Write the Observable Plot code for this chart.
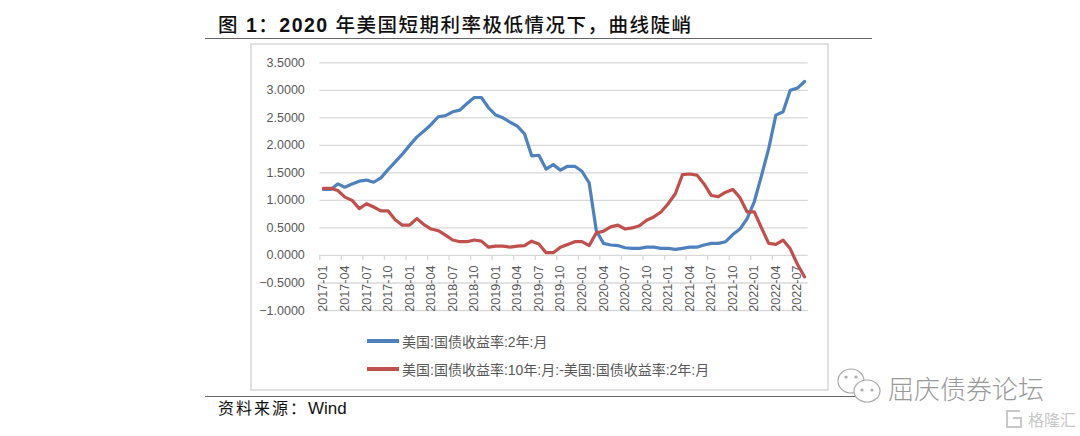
<!DOCTYPE html>
<html><head><meta charset="utf-8">
<script src="https://cdn.jsdelivr.net/npm/d3@7"></script>
<script src="https://cdn.jsdelivr.net/npm/@observablehq/plot@0.6"></script>
<style>
html,body{margin:0;padding:0;background:#fff;width:1080px;height:436px;overflow:hidden}
#page{position:relative;width:1080px;height:436px;font-family:"Noto Sans CJK SC",sans-serif}
#title{position:absolute;left:218px;top:10px;font-size:19.5px;line-height:30px;font-weight:500;color:#111;letter-spacing:1.5px;white-space:pre;font-family:"Liberation Sans","Noto Sans CJK SC",sans-serif}
#title b{font-weight:700}
.rule{position:absolute;left:205px;width:667px;height:1.5px;background:#666}
#box{position:absolute;left:250px;top:43px;width:575px;height:344px;border:2px solid #e0e0e0;box-sizing:content-box}
#chart{position:absolute;left:251px;top:44px}
.leg{position:absolute;left:367px;display:flex;align-items:center;height:20px;font-size:14px;color:#595959;white-space:pre;font-family:"Liberation Sans","Noto Sans CJK SC",sans-serif}
.leg i{display:inline-block;width:32px;height:3.5px;margin-right:3px}
#cap{position:absolute;left:218px;top:398px;font-size:16px;line-height:22px;color:#111;letter-spacing:2px;font-family:"Liberation Sans","Noto Sans CJK SC",sans-serif}
#cap span{letter-spacing:0;font-size:17px}
#wm{position:absolute;left:888px;top:369px;font-size:26px;line-height:38px;font-weight:300;color:#9a9a9a;white-space:pre}
#wm2{position:absolute;left:1028px;top:409px;font-size:16px;line-height:20px;color:#c8c8c8;white-space:pre}
#wmi{position:absolute;left:836px;top:366px}
#wmi2{position:absolute;left:1004px;top:408px}
</style></head><body>
<div id="page">
<div id="title">图 <b>1</b>&#xFF1A;<b>2020</b> 年美国短期利率极低情况下&#xFF0C;曲线陡峭</div>
<div class="rule" style="top:37.5px"></div>
<div id="box"></div>
<div id="chart"></div>
<div class="leg" style="top:331px"><i style="background:#4f81bd"></i>美国:国债收益率:2年:月</div>
<div class="leg" style="top:359px"><i style="background:#c0504d"></i>美国:国债收益率:10年:月:-美国:国债收益率:2年:月</div>
<div class="rule" style="top:395.5px"></div>
<div id="cap">资料来源&#xFF1A;<span>Wind</span></div>
<svg id="wmi" width="46" height="44" fill="#fff" stroke="#aaa" stroke-width="1.2"><ellipse cx="15" cy="15" rx="13" ry="12"/><ellipse cx="31" cy="25" rx="13" ry="11"/><circle cx="10" cy="11" r="1" fill="#aaa"/><circle cx="20" cy="11" r="1" fill="#aaa"/><circle cx="26" cy="24" r="1" fill="#aaa"/><circle cx="36" cy="24" r="1" fill="#aaa"/></svg>
<div id="wm">屈庆债券论坛</div>
<svg id="wmi2" width="20" height="22" fill="none" stroke="#c8c8c8" stroke-width="2"><path d="M16 3H3V19H17V10H9"/></svg>
<div id="wm2">格隆汇</div>
</div>
<script>
const years = [2017,2018,2019,2020,2021,2022];
const months = years.flatMap(y => d3.range(1,13).map(m => `${y}-${String(m).padStart(2,"0")}`)).slice(0,68);
const tickMonths = months.filter((d,i) => i % 3 === 0);
const yTicks = [3.5,3,2.5,2,1.5,1,0.5,0,-0.5,-1];
const seriesNames = ["美国:国债收益率:2年:月","美国:国债收益率:10年:月:-美国:国债收益率:2年:月"];
const twoYear = [1.20,1.20,1.30,1.24,1.30,1.35,1.37,1.33,1.41,1.56,1.70,1.84,2.00,2.15,2.26,2.38,2.52,2.54,2.61,2.64,2.76,2.87,2.87,2.68,2.55,2.50,2.42,2.35,2.21,1.81,1.82,1.57,1.65,1.55,1.62,1.62,1.53,1.32,0.45,0.22,0.19,0.18,0.14,0.13,0.13,0.15,0.15,0.13,0.13,0.11,0.13,0.15,0.15,0.19,0.22,0.22,0.25,0.38,0.48,0.67,0.98,1.45,1.94,2.55,2.61,3.00,3.04,3.16];
const spread = [1.22,1.22,1.18,1.06,1.00,0.85,0.94,0.88,0.81,0.81,0.65,0.55,0.55,0.67,0.56,0.48,0.45,0.37,0.28,0.25,0.25,0.28,0.26,0.15,0.17,0.17,0.15,0.17,0.18,0.26,0.21,0.05,0.05,0.15,0.20,0.25,0.25,0.18,0.41,0.44,0.52,0.55,0.48,0.50,0.54,0.64,0.70,0.79,0.94,1.12,1.47,1.48,1.46,1.30,1.09,1.07,1.15,1.20,1.05,0.79,0.79,0.50,0.22,0.20,0.28,0.12,-0.16,-0.39];

const font = '"Liberation Sans",sans-serif';
const plot = Plot.plot({
  width:575, height:280,
  marginLeft:68.3, marginRight:18.3, marginTop:18.3, marginBottom:14,
  style:{background:"transparent",fontFamily:font,color:"#595959",overflow:"visible"},
  x:{type:"point",domain:months,padding:0.5,round:false,label:null},
  y:{domain:[-1,3.5],label:null},
  marks:[
    Plot.gridY(yTicks,{stroke:"#d9d9d9",strokeOpacity:1,strokeWidth:1.3}),
    Plot.axisY({ticks:yTicks,tickSize:0,tickPadding:15,tickFormat:d3.format(".4f"),fontSize:12.5,label:null,color:"#595959"}),
    Plot.ruleX(tickMonths,{x:d=>d,y1:0,y2:-0.09,dx:-3.59,stroke:"#d9d9d9",strokeWidth:1.3}),
    Plot.axisX({ticks:tickMonths,anchor:"bottom",tickSize:0,tickRotate:-90,tickPadding:3,dy:-48,fontSize:12.6,label:null,color:"#595959"}),
    Plot.line(months,{x:d=>d,y:(d,i)=>twoYear[i],stroke:"#4f81bd",strokeWidth:3.2,strokeLinejoin:"round",curve:"linear"}),
    Plot.line(months,{x:d=>d,y:(d,i)=>spread[i],stroke:"#c0504d",strokeWidth:3.2,strokeLinejoin:"round",curve:"linear"})
  ]
});
document.getElementById("chart").appendChild(plot);
</script>
</body></html>
